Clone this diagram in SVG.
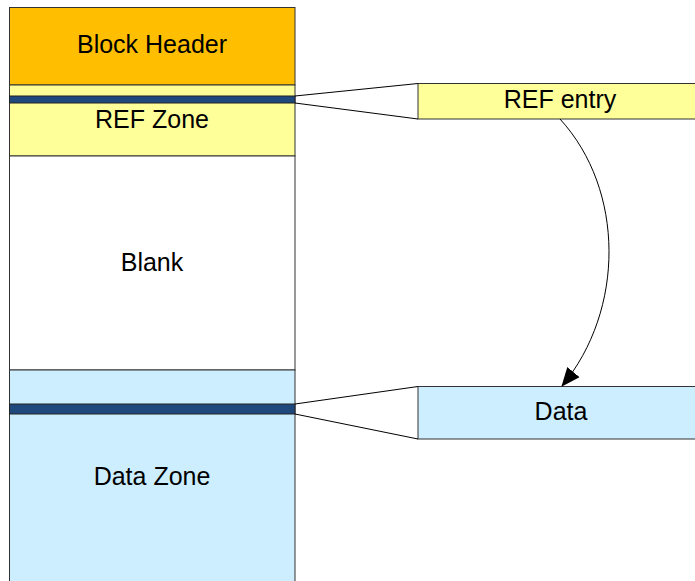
<svg xmlns="http://www.w3.org/2000/svg" width="695" height="581" viewBox="0 0 695 581">
<defs>
<style>
.box{stroke:#333;stroke-width:1}
.bar{fill:#1f497d;stroke:#222;stroke-width:1}
.lbl{font-family:"Liberation Sans",Arial,sans-serif;font-size:25px;fill:#000;text-anchor:middle}
.conn{fill:none;stroke:#000;stroke-width:1}
</style>
<marker id="ah" markerWidth="20" markerHeight="16" refX="18" refY="8" orient="auto" markerUnits="userSpaceOnUse">
<path d="M0,0 L19,8 L0,16 Z" fill="#000"/>
</marker>
</defs>
<g id="block-header">
<rect class="box" x="9.5" y="7.5" width="285.5" height="77.5" fill="#ffbf00"/>
<text class="lbl" x="152" y="53">Block Header</text>
</g>
<g id="ref-zone">
<rect class="box" x="9.5" y="85" width="285.5" height="71" fill="#ffff99"/>
<rect class="bar" x="9.5" y="96" width="285.5" height="7"/>
<text class="lbl" x="152" y="128">REF Zone</text>
</g>
<g id="blank">
<rect class="box" x="9.5" y="156" width="285.5" height="214" fill="#ffffff"/>
<text class="lbl" x="152" y="271">Blank</text>
</g>
<g id="data-zone">
<rect class="box" x="9.5" y="370" width="285.5" height="215" fill="#cceeff"/>
<rect class="bar" x="9.5" y="404" width="285.5" height="10"/>
<text class="lbl" x="152" y="485">Data Zone</text>
</g>
<g id="ref-entry">
<rect class="box" x="418" y="83.5" width="290" height="35.5" fill="#ffff99"/>
<text class="lbl" x="560" y="108">REF entry</text>
</g>
<g id="data">
<rect class="box" x="418" y="386.5" width="290" height="52.5" fill="#cceeff"/>
<text class="lbl" x="561" y="420">Data</text>
</g>
<g id="connectors">
<path class="conn" d="M295,96 L418,83.5 M295,103 L418,119"/>
<path class="conn" d="M295,404 L418,386.5 M295,414 L418,439"/>
<path class="conn" d="M560,119 C625,190 625,310 562,386" marker-end="url(#ah)"/>
</g>
</svg>
